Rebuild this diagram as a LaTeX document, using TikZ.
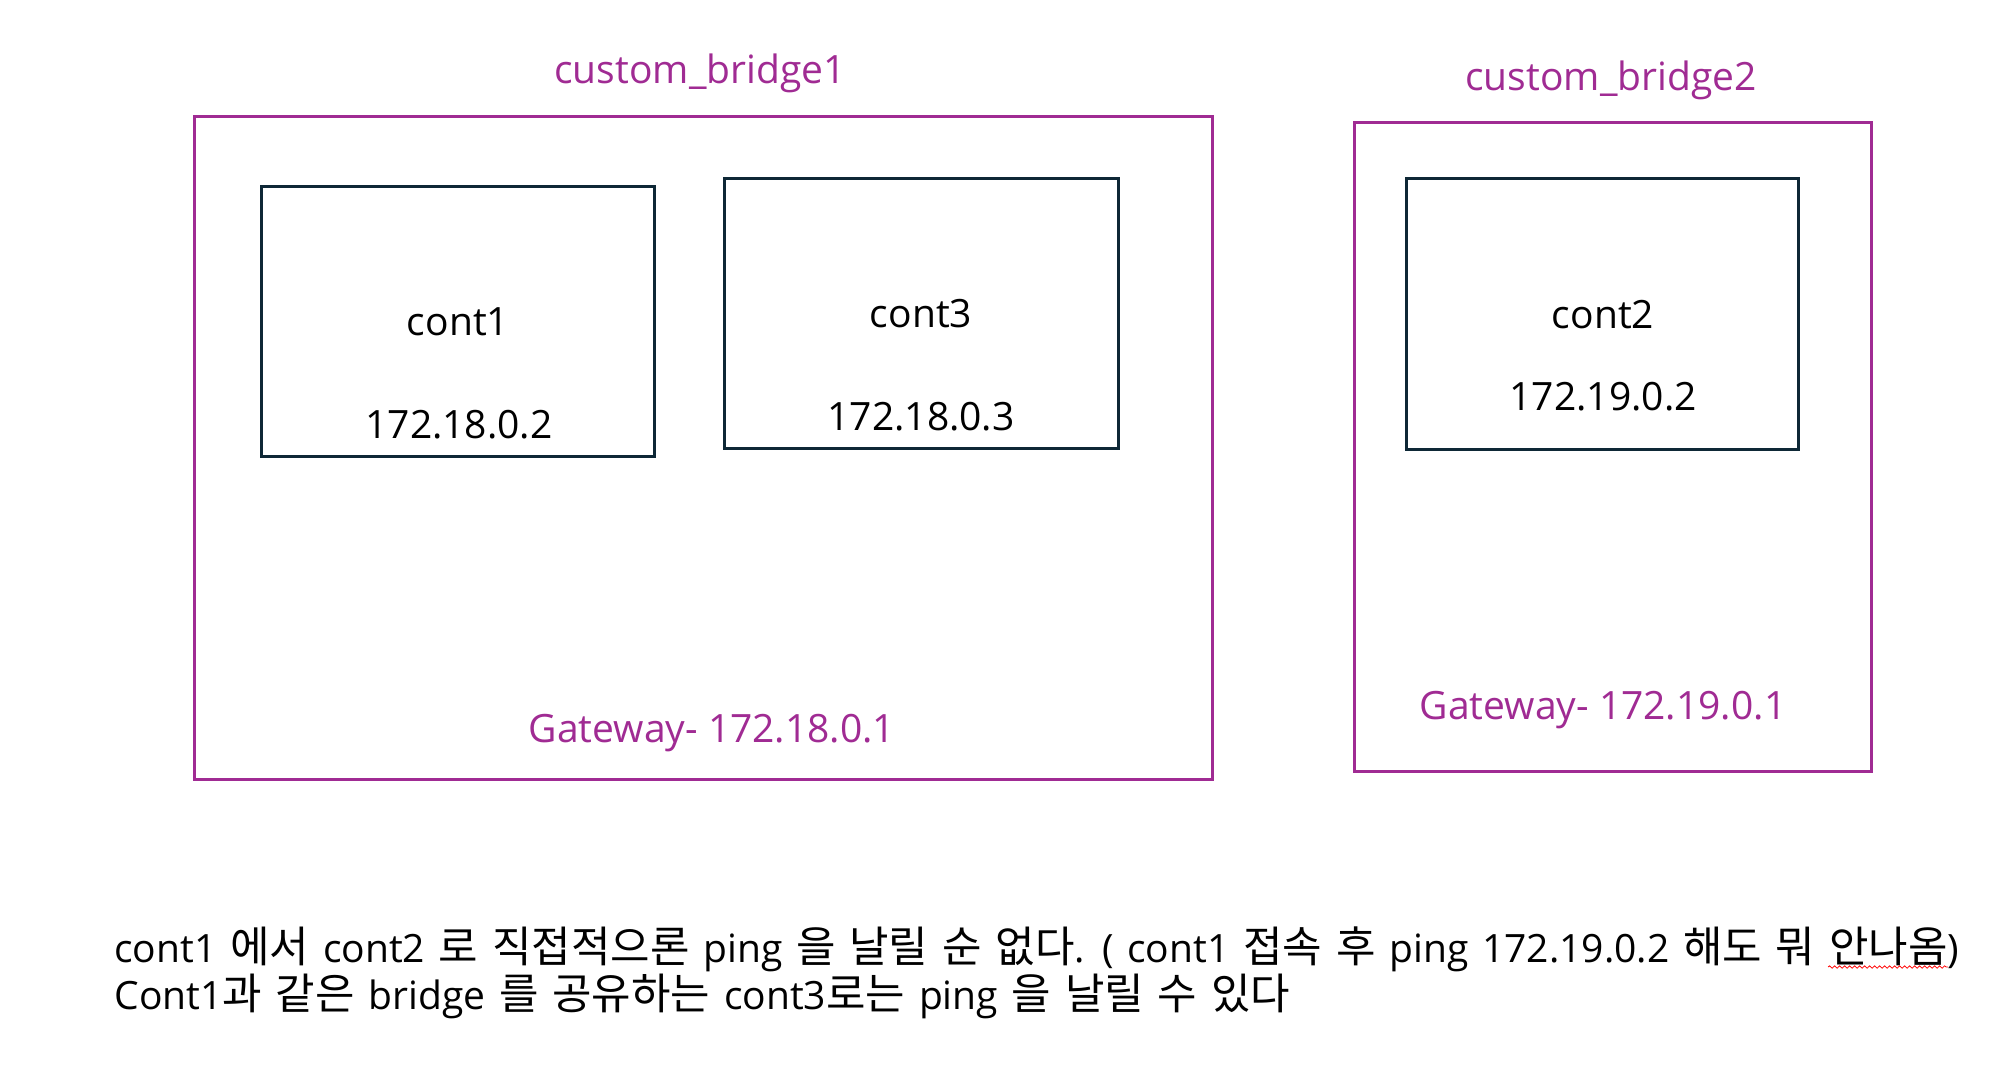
\documentclass[tikz,border=0pt]{standalone}
\usepackage{fontspec}
\setmainfont{Open Sans}
\newfontfamily\krfont[Scale=1.1]{Noto Sans CJK KR}
\newcommand{\K}[1]{{\krfont #1}}
\newskip\notespace
\notespace=6.9pt plus 1pt minus 1pt
\newcommand{\wide}{\spaceskip=\notespace}
\usetikzlibrary{fit,decorations.pathmorphing}
\definecolor{bridgepurple}{RGB}{160,43,147}
\definecolor{boxnavy}{RGB}{14,40,54}
\tikzset{
  bridgebox/.style={draw=bridgepurple, line width=1.5pt, inner sep=0pt},
  contbox/.style={draw=boxnavy, line width=1.5pt, inner sep=0pt},
  purplelabel/.style={text=bridgepurple, anchor=base, inner sep=0pt, font=\fontsize{19.5}{23}\selectfont},
  contlabel/.style={text=black, anchor=base, inner sep=0pt, font=\fontsize{19.5}{23}\selectfont},
  notetext/.style={text=black, anchor=base west, inner sep=0pt, font=\fontsize{19.5}{23}\selectfont},
}
\begin{document}
\begin{tikzpicture}[x=0.5pt, y=-0.5pt]
\useasboundingbox[fill=white] (0,0) rectangle (2000,1082);
% bridges
\node[bridgebox, fit={(194,116) (1212,779)}] (bridge1) {};
\node[bridgebox, fit={(1354,122) (1871,771)}] (bridge2) {};
% containers
\node[contbox, fit={(261,186) (654,456)}] (c1box) {};
\node[contbox, fit={(724,178) (1118,448)}] (c3box) {};
\node[contbox, fit={(1406,178) (1798,449)}] (c2box) {};
% bridge labels
\node[purplelabel] (b1name) at (700,83) {custom\_bridge1};
\node[purplelabel] (b2name) at (1611,90) {custom\_bridge2};
\node[purplelabel] (gw1) at (712,742) {Gateway- 172.18.0.1};
\node[purplelabel] (gw2) at (1603,719) {Gateway- 172.19.0.1};
% container labels
\node[contlabel] (c1name) at (458,335) {cont1};
\node[contlabel] (c1ip) at (459,438) {172.18.0.2};
\node[contlabel] (c3name) at (921,327) {cont3};
\node[contlabel] (c3ip) at (921,430) {172.18.0.3};
\node[contlabel] (c2name) at (1603,328) {cont2};
\node[contlabel] (c2ip) at (1603,410) {172.19.0.2};
% notes
\node[notetext] (note1) at (114,962) {\wide cont1 \K{\wide 에서} cont2 \K{\wide 로 직접적으론} ping \K{\wide 을 날릴 순 없다}. ( cont1 \K{\wide 접속 후} ping 172.19.0.2 \K{\wide 해도 뭐 안나옴})};
\node[notetext] (note2) at (114,1009) {\wide Cont1\K{\wide 과 같은} bridge \K{\wide 를 공유하는} cont3\K{\wide 로는} ping \K{\wide 을 날릴 수 있다}};
\coordinate (sq1) at (1828,967);
\coordinate (sq2) at (1948,967);
\draw[red, line width=0.4pt, decorate, decoration={snake, amplitude=0.6pt, segment length=2.5pt}] (sq1) -- (sq2);
\end{tikzpicture}
\end{document}
